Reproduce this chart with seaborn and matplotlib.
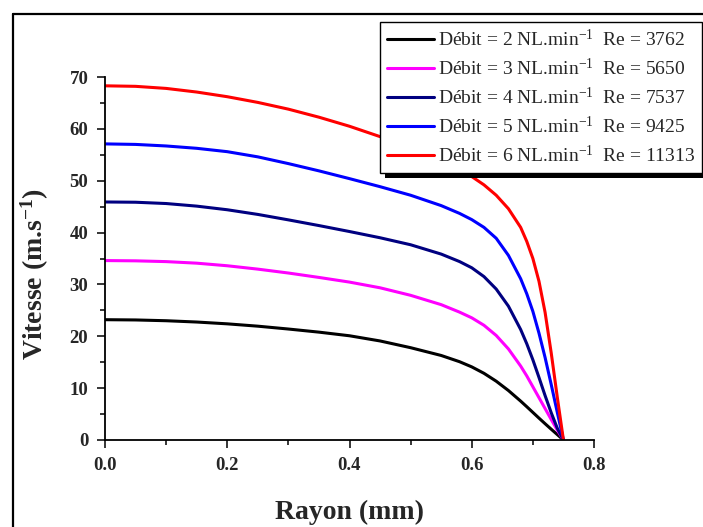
import numpy as np
import pandas as pd
import matplotlib
matplotlib.use('Agg')
import matplotlib.pyplot as plt
import seaborn as sns
from matplotlib.lines import Line2D
from matplotlib.patches import Rectangle
from matplotlib.ticker import MultipleLocator, FormatStrFormatter
from matplotlib.font_manager import FontProperties
from matplotlib.transforms import IdentityTransform

# ---- data ----
rayon = [0, 0.05, 0.1, 0.15, 0.2, 0.25, 0.3, 0.35, 0.4, 0.45, 0.5, 0.55, 0.58, 0.6,
         0.62, 0.64, 0.66, 0.68, 0.69, 0.7, 0.71, 0.72, 0.73, 0.74, 0.75]
v_2 = [23.2, 23.15, 23.0, 22.75, 22.4, 21.95, 21.4, 20.8, 20.1, 19.1, 17.8, 16.3, 15.1, 14.1,
       12.86, 11.34, 9.54, 7.5, 6.42, 5.32, 4.22, 3.14, 2.08, 1.04, 0]
v_3 = [34.6, 34.55, 34.4, 34.1, 33.6, 32.95, 32.2, 31.35, 30.45, 29.35, 27.9, 26.1, 24.66, 23.56,
       22.12, 20.16, 17.56, 14.26, 12.36, 10.26, 8.16, 6.06, 3.96, 1.9, 0]
v_4 = [45.9, 45.85, 45.6, 45.1, 44.4, 43.5, 42.45, 41.35, 40.2, 39.0, 37.65, 35.85, 34.41, 33.21,
       31.51, 29.11, 25.81, 21.31, 18.56, 15.46, 12.06, 8.56, 5.26, 2.26, 0]
v_5 = [57.1, 57.0, 56.7, 56.25, 55.6, 54.6, 53.3, 51.9, 50.4, 48.85, 47.2, 45.2, 43.7, 42.5,
       41.0, 38.9, 35.6, 31.1, 28.2, 24.8, 20.6, 15.9, 10.7, 5.3, 0]
v_6 = [68.3, 68.2, 67.8, 67.1, 66.2, 65.1, 63.8, 62.25, 60.5, 58.5, 56.3, 53.8, 52.1, 50.8,
       49.2, 47.2, 44.6, 41.0, 38.3, 35.0, 30.6, 24.6, 16.8, 8.2, 0]
debits = [2, 3, 4, 5, 6]
reynolds = [3762, 5650, 7537, 9425, 11313]
couleurs = ['#000000', '#FF00FF', '#000080', '#0000FF', '#FF0000']
x_ticks = [0.0, 0.2, 0.4, 0.6, 0.8]
y_ticks = [0, 10, 20, 30, 40, 50, 60, 70]

series = [v_2, v_3, v_4, v_5, v_6]
labels = [f'Débit = {d} NL.min$^{{-1}}$  Re = {re}' for d, re in zip(debits, reynolds)]

rows = []
for lab, vals in zip(labels, series):
    for r, v in zip(rayon, vals):
        rows.append({'Rayon': r, 'Vitesse': v, 'serie': lab})
df = pd.DataFrame(rows)

sns.set_style('ticks')
plt.rcParams['font.family'] = ['Liberation Serif', 'DejaVu Serif']
plt.rcParams['mathtext.fontset'] = 'custom'
plt.rcParams['mathtext.rm'] = 'Liberation Serif'
plt.rcParams['mathtext.it'] = 'Liberation Serif:italic'
plt.rcParams['mathtext.bf'] = 'Liberation Serif:bold'

W, H = 703, 527
fig = plt.figure(figsize=(W / 100, H / 100), dpi=100)
ax = fig.add_axes([105 / W, 1 - 440 / H, 489 / W, 363 / H])

sns.lineplot(data=df, x='Rayon', y='Vitesse', hue='serie', hue_order=labels,
             palette=couleurs, linewidth=2.2, errorbar=None, legend=False, ax=ax,
             solid_joinstyle='round')

ax.set_xlim(0, 0.8)
ax.set_ylim(0, 70)
ax.set_xticks(x_ticks)
ax.set_yticks(y_ticks)
ax.xaxis.set_minor_locator(MultipleLocator(0.1))
ax.yaxis.set_minor_locator(MultipleLocator(5))
ax.xaxis.set_major_formatter(FormatStrFormatter('%.1f'))
ax.yaxis.set_major_formatter(FormatStrFormatter('%d'))
ax.tick_params(which='major', direction='out', length=6, width=1.1, labelsize=13.5, pad=6, color='black')
ax.tick_params(which='minor', direction='out', length=3.5, width=1.1, color='black')
for lab in ax.get_xticklabels() + ax.get_yticklabels():
    lab.set_fontweight('bold')
ax.set_xlabel('')
ax.set_ylabel('')
for s in ['top', 'right']:
    ax.spines[s].set_visible(False)
for s in ['left', 'bottom']:
    ax.spines[s].set_linewidth(1.3)
    ax.spines[s].set_color('black')

fig.text(349.5 / W, 1 - 519 / H, 'Rayon (mm)', ha='center', va='baseline',
         fontsize=20, fontweight='bold')
fig.text(35 / W, 1 - 274 / H, r'Vitesse (m.s$^{\mathbf{-1}}$)', ha='center', va='center',
         rotation=90, fontsize=20, fontweight='bold')

# outer frame (left and top visible)
fig.add_artist(Line2D([13 / W, 13 / W], [0, 1 - 14 / H], transform=fig.transFigure, color='black', lw=1.6))
fig.add_artist(Line2D([13 / W, 1.0], [1 - 14 / H, 1 - 14 / H], transform=fig.transFigure, color='black', lw=1.6))

handles = [Line2D([], [], color=c, lw=2.2) for c in couleurs]
leg = ax.legend(handles, labels, loc='upper right', bbox_to_anchor=(702 / W, 1 - 22 / H),
                bbox_transform=fig.transFigure, frameon=True, fancybox=False,
                edgecolor='black', framealpha=1, borderaxespad=0,
                prop=FontProperties(family='Liberation Serif', size=14.0),
                handlelength=2.45, handletextpad=0.2, labelspacing=0.4, borderpad=0.35)
leg.get_frame().set_linewidth(1.0)
leg.set_zorder(10)

fig.canvas.draw()
bb = leg.get_window_extent()
shadow = Rectangle((bb.x0 + 5, bb.y0 - 5), bb.width, bb.height, transform=IdentityTransform(),
                   facecolor='black', edgecolor='none', zorder=9, clip_on=False)
ax.add_artist(shadow)

fig.savefig('out.png', dpi=100)
